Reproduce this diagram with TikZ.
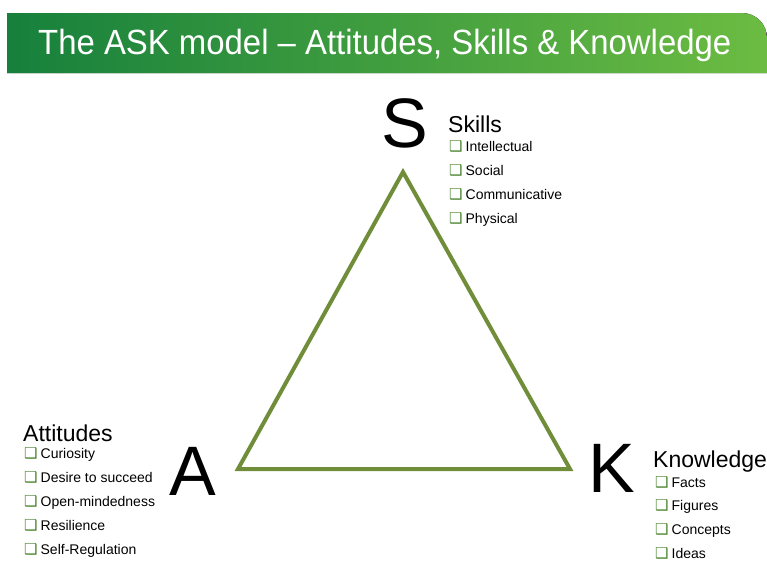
\documentclass[tikz,border=0pt]{standalone}
\usepackage{fontspec}
\setmainfont{Liberation Sans}
\newfontfamily\titlefont[FakeStretch=0.94]{Liberation Sans}
\newfontfamily\boxfont{DejaVu Sans}

\definecolor{banddark}{RGB}{22,128,60}
\definecolor{bandlight}{RGB}{108,188,66}
\definecolor{triolive}{RGB}{112,142,58}
\definecolor{boxgreen}{RGB}{72,130,44}

\newcommand{\chkbox}{{\boxfont\color{boxgreen}\fontsize{15}{15}\selectfont ❑}}

\tikzset{
	letter/.style={font=\fontsize{70}{70}\selectfont, anchor=base, inner sep=0pt},
	head/.style={font=\fontsize{23}{23}\selectfont, anchor=base west, inner sep=0pt},
	item/.style={font=\fontsize{14}{14}\selectfont, anchor=base west, inner sep=0pt},
	side/.style={draw=triolive, line width=4pt, line join=miter}
}

\begin{document}
\begin{tikzpicture}[x=1pt, y=-1pt]

	\useasboundingbox (0,0) rectangle (767,562);

	% title band
	\fill[left color=banddark, right color=bandlight]
	(7,73) -- (7,13) -- (742,13) arc[start angle=-90, end angle=0, radius=25] -- (767,73) -- cycle;
	\node[anchor=base west, inner sep=0pt, text=white, font=\titlefont\fontsize{35}{35}\selectfont]
	(title) at (38,54) {The ASK model – Attitudes, Skills \& Knowledge};

	% corners of the triangle
	\coordinate (top)   at (403,172);
	\coordinate (left)  at (238,469);
	\coordinate (right) at (570,469);
	\draw[side] (top) -- (right) -- (left) -- cycle;

	% big letters
	\node[letter] (S) at (405,147) {S};
	\node[letter] (A) at (193,495) {A};
	\node[letter] (K) at (612,492) {K};

	% skills
	\node[head] (skills) at (448,132) {Skills};
	\foreach \txt [count=\i] in {Intellectual, Social, Communicative, Physical}
		\node[item] (skills-\i) at (449, 151+24.1*\i-24.1) {\chkbox\hspace{3pt}\txt};

	% attitudes
	\node[head] (attitudes) at (23,441) {Attitudes};
	\foreach \txt [count=\i] in {Curiosity, Desire to succeed, Open-mindedness, Resilience, Self-Regulation}
		\node[item] (attitudes-\i) at (24, 458+24*\i-24) {\chkbox\hspace{3pt}\txt};

	% knowledge
	\node[head] (knowledge) at (653,467) {Knowledge};
	\foreach \txt [count=\i] in {Facts, Figures, Concepts, Ideas}
		\node[item] (knowledge-\i) at (655, 487+23.7*\i-23.7) {\chkbox\hspace{3pt}\txt};

\end{tikzpicture}
\end{document}
